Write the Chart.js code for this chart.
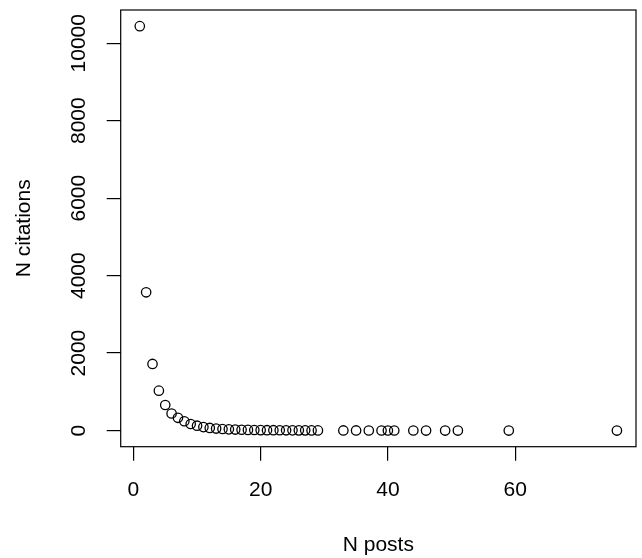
<!DOCTYPE html>
<html lang="en">
<head>
    <meta charset="UTF-8">
    <title>N citations vs N posts</title>
    <style>
        body { margin: 0; background: #fff; }
    </style>
</head>
<body>
    <canvas id="myChart" width="642" height="558"></canvas>

    <script src="https://cdn.jsdelivr.net/npm/chart.js"></script>
    <script>
        // values
        const posts = [1, 2, 3, 4, 5, 6, 7, 8, 9, 10, 11, 12, 13, 14, 15, 16, 17, 18, 19, 20,
                       21, 22, 23, 24, 25, 26, 27, 28, 29, 33, 35, 37, 39, 40, 41, 44, 46, 49, 51, 59, 76];
        const citations = [10440, 3570, 1720, 1030, 660, 440, 330, 240, 170, 125, 90, 68, 52, 40, 32, 26, 21, 17, 14, 12,
                           10, 9, 8, 7, 6, 5, 5, 4, 4, 3, 3, 2, 2, 2, 2, 2, 1, 1, 1, 1, 1];
        const xTicks = [0, 20, 40, 60];
        const yTicks = [0, 2000, 4000, 6000, 8000, 10000];

        const FONT = '"Liberation Sans", Arial, Helvetica, sans-serif';
        const SIZE = 21;

        // R style axis range: data range stretched by 4% each side
        const pad = (arr) => {
            const lo = Math.min(...arr), hi = Math.max(...arr);
            const d = (hi - lo) * 0.04;
            return [lo - d, hi + d];
        };
        const [xMin, xMax] = pad(posts);
        const [yMin, yMax] = pad(citations);

        const points = posts.map((p, i) => ({ x: p, y: citations[i] }));

        // box around the plot region + rotated y tick labels
        const rBox = {
            id: 'rBox',
            afterDraw(chart) {
                const { ctx, chartArea: a } = chart;
                ctx.save();
                ctx.strokeStyle = '#000';
                ctx.lineWidth = 1.2;
                ctx.strokeRect(a.left, a.top, a.right - a.left, a.bottom - a.top);

                const ys = chart.scales.y;
                ctx.fillStyle = '#000';
                ctx.font = SIZE + 'px ' + FONT;
                ctx.textAlign = 'center';
                ctx.textBaseline = 'middle';
                ys.ticks.forEach(t => {
                    const py = ys.getPixelForValue(t.value);
                    ctx.save();
                    ctx.translate(79, py);
                    ctx.rotate(-Math.PI / 2);
                    ctx.fillText(String(t.value), 0, 0);
                    ctx.restore();
                });
                ctx.restore();
            }
        };

        const ctx = document.getElementById('myChart');

        new Chart(ctx, {
            type: 'scatter',
            data: {
                datasets: [{
                    data: points,
                    pointStyle: 'circle',
                    pointRadius: 4.7,
                    pointHoverRadius: 4.7,
                    pointBorderWidth: 1.3,
                    borderColor: '#000',
                    backgroundColor: 'rgba(0,0,0,0)'
                }]
            },
            options: {
                responsive: false,
                animation: false,
                devicePixelRatio: 1,
                events: [],
                layout: { padding: { top: 10, right: 1, left: 0, bottom: 0 } },
                plugins: {
                    legend: { display: false },
                    tooltip: { enabled: false }
                },
                scales: {
                    x: {
                        type: 'linear',
                        min: xMin,
                        max: xMax,
                        afterBuildTicks: (s) => { s.ticks = xTicks.map(v => ({ value: v })); },
                        afterFit: (s) => { s.height = 111.3; },
                        border: { display: false },
                        grid: {
                            drawOnChartArea: false,
                            drawTicks: true,
                            tickLength: 14,
                            color: '#000',
                            lineWidth: 1.2
                        },
                        ticks: {
                            color: '#000',
                            padding: 17,
                            maxRotation: 0,
                            font: { family: FONT, size: SIZE }
                        },
                        title: {
                            display: true,
                            text: 'N posts',
                            color: '#000',
                            font: { family: FONT, size: SIZE },
                            padding: { top: 0, bottom: 0.5 }
                        }
                    },
                    y: {
                        type: 'linear',
                        min: yMin,
                        max: yMax,
                        afterBuildTicks: (s) => { s.ticks = yTicks.map(v => ({ value: v })); },
                        afterFit: (s) => { s.width = 120.7; },
                        border: { display: false },
                        grid: {
                            drawOnChartArea: false,
                            drawTicks: true,
                            tickLength: 14,
                            color: '#000',
                            lineWidth: 1.2
                        },
                        ticks: { display: false },
                        title: {
                            display: true,
                            text: 'N citations',
                            color: '#000',
                            font: { family: FONT, size: SIZE },
                            padding: { top: 12, bottom: 0 }
                        }
                    }
                }
            },
            plugins: [rBox]
        });
    </script>
</body>
</html>
